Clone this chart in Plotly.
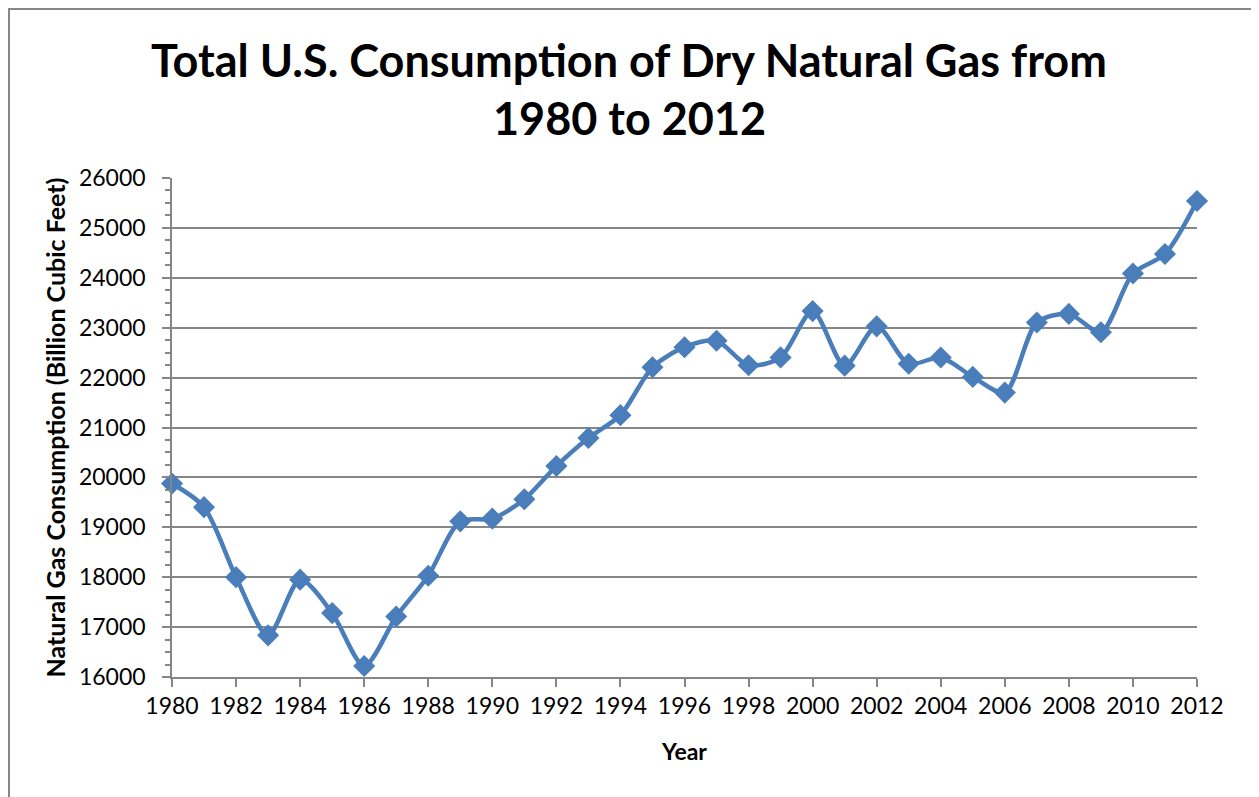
import plotly.graph_objects as go

# data (billion cubic feet)
years = list(range(1980, 2013))
consumption = [19877, 19404, 18001, 16835, 17951, 17281, 16221, 17211, 18030, 19119,
               19174, 19562, 20228, 20790, 21247, 22207, 22609, 22737, 22246, 22405,
               23333, 22239, 23027, 22277, 22403, 22014, 21699, 23104, 23277, 22910,
               24087, 24477, 25538]
title_lines = ['Total U.S. Consumption of Dry Natural Gas from', '1980 to 2012']

W, H = 1259, 797
OFF = 8  # page body margin
L, R, T, B = 172 - OFF, 1197 - OFF, 178 - OFF, 677 - OFF  # plot area in px
grey = '#868686'
blue = '#4A7EBB'

fig = go.Figure()
fig.add_trace(go.Scatter(
    x=years, y=consumption, mode='lines+markers',
    line=dict(color=blue, width=4.5, shape='spline', smoothing=0.8),
    marker=dict(symbol='diamond', size=17, color=blue),
    cliponaxis=False, showlegend=False))

# helpers: page px -> paper coords
def px_x(p):
    return (p - OFF - L) / (R - L)

def px_y(p):
    return (B - (p - OFF)) / (B - T)

# outer chart border
fig.add_shape(type='rect', xref='paper', yref='paper',
              x0=px_x(9), x1=px_x(1253), y0=px_y(820), y1=px_y(9),
              line=dict(color=grey, width=2), layer='below')

for txt, yc in zip(title_lines, [60, 118]):
    fig.add_annotation(text=txt, xref='paper', yref='paper',
                       x=px_x(629), y=px_y(yc), xanchor='center', yanchor='middle',
                       showarrow=False,
                       font=dict(family='Lato', size=45, weight='bold', color='black'))

fig.update_layout(
    width=W, height=H,
    margin=dict(l=L, r=W - R, t=T, b=H - B),
    paper_bgcolor='white', plot_bgcolor='white',
    font=dict(family='Lato', color='black'),
)

fig.update_xaxes(
    range=[1980, 2012], tick0=1980, dtick=2,
    showgrid=False, showline=True, linecolor=grey, linewidth=1.5,
    ticks='outside', ticklen=8, tickcolor=grey, tickwidth=1.5,
    tickfont=dict(size=23), zeroline=False,
    title=dict(text='Year', font=dict(size=23, weight='bold'), standoff=26))

fig.update_yaxes(
    range=[16000, 26000], dtick=1000, tickformat='d',
    showgrid=True, gridcolor=grey, gridwidth=1.5,
    showline=True, linecolor=grey, linewidth=1.5,
    ticks='outside', ticklen=8, tickcolor=grey, tickwidth=1.5,
    minor=dict(dtick=250, ticks='outside', ticklen=5, tickcolor=grey, tickwidth=1.5, showgrid=False),
    ticklabelstandoff=12,
    tickfont=dict(size=23), zeroline=False,
    title=dict(text='Natural Gas Consumption (Billion Cubic Feet)',
               font=dict(size=25, weight='bold'), standoff=6))

fig.write_html('out.html')
